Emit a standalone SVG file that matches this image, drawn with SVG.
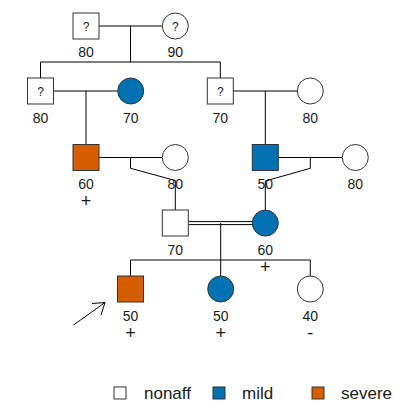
<svg xmlns="http://www.w3.org/2000/svg" width="407" height="411" viewBox="0 0 407 411">
<style>
.sym{stroke:#333333;stroke-width:1}
.wh{fill:#ffffff}
.bl{fill:#0072B2}
.or{fill:#D55E00}
.ln{stroke:#000000;stroke-width:1;fill:none}
text{font-family:"Liberation Sans",Arial,sans-serif;fill:#1a1a1a}
.lab{font-size:14px;text-anchor:middle}
.pm{font-size:18px;text-anchor:middle}
.q{font-size:12px;text-anchor:middle}
.leg{font-size:17px}
</style>
<rect width="407" height="411" fill="#ffffff"/>
<g id="connectors">
<path class="ln" d="M99 26H162.3M130.5 26V62M40.5 62H220.3M40.5 62V78M220.3 62V78"/>
<path class="ln" d="M53.5 91H117.7M86 91V144.5M233.3 91H297.3M265.3 91V144.5"/>
<path class="ln" d="M99 157.5H162.3M130.5 157.5V168.3L175.3 180.5V210"/>
<path class="ln" d="M278.3 157.5H342.3M310.3 157.5V168.3L265.3 181V210"/>
<path class="ln" d="M188.3 221.6H252.3M188.3 224.6H252.3M220.7 223.1V276"/>
<path class="ln" d="M130.5 260H310.3M130.5 260V276M310.3 260V276"/>
<path class="ln" stroke-width="2.2" d="M73.5 325L105 302.5M92 303.5L105 302.5L101 315"/>
</g>
<g id="n1"><rect class="sym wh" x="73" y="13" width="26" height="26"/><text class="q" x="86" y="30.5">?</text><text class="lab" x="86" y="57">80</text></g>
<g id="n2"><circle class="sym wh" cx="175.3" cy="26" r="13"/><text class="q" x="175.3" y="30.5">?</text><text class="lab" x="175.3" y="57">90</text></g>
<g id="n3"><rect class="sym wh" x="27.5" y="78" width="26" height="26"/><text class="q" x="40.5" y="95.5">?</text><text class="lab" x="40.5" y="123">80</text></g>
<g id="n4"><circle class="sym bl" cx="130.7" cy="91" r="13"/><text class="lab" x="130.7" y="123">70</text></g>
<g id="n5"><rect class="sym wh" x="207.3" y="78" width="26" height="26"/><text class="q" x="220.3" y="95.5">?</text><text class="lab" x="220.3" y="123">70</text></g>
<g id="n6"><circle class="sym wh" cx="310.3" cy="91" r="13"/><text class="lab" x="310.3" y="123">80</text></g>
<g id="n7"><rect class="sym or" x="73" y="144.5" width="26" height="26"/><text class="lab" x="86" y="189">60</text><text class="pm" x="86" y="207">+</text></g>
<g id="n8"><circle class="sym wh" cx="175.3" cy="157.5" r="13"/><text class="lab" x="175.3" y="189">80</text></g>
<g id="n9"><rect class="sym bl" x="252.3" y="144.5" width="26" height="26"/><text class="lab" x="265.3" y="189">50</text></g>
<g id="n10"><circle class="sym wh" cx="355.3" cy="157.5" r="13"/><text class="lab" x="355.3" y="189">80</text></g>
<g id="n11"><rect class="sym wh" x="162.3" y="210" width="26" height="26"/><text class="lab" x="175.3" y="255">70</text></g>
<g id="n12"><circle class="sym bl" cx="265.3" cy="223.1" r="13"/><text class="lab" x="265.3" y="255">60</text><text class="pm" x="265.3" y="273">+</text></g>
<g id="n13"><rect class="sym or" x="117.5" y="276" width="26" height="26"/><text class="lab" x="130.5" y="321">50</text><text class="pm" x="130.5" y="338.5">+</text></g>
<g id="n14"><circle class="sym bl" cx="220.7" cy="289" r="13"/><text class="lab" x="220.7" y="321">50</text><text class="pm" x="220.7" y="338.5">+</text></g>
<g id="n15"><circle class="sym wh" cx="310.3" cy="289" r="13"/><text class="lab" x="310.3" y="321">40</text><text class="pm" x="310.3" y="338.5">-</text></g>
<g id="legend">
<rect class="sym wh" x="114" y="387" width="12" height="12"/><text class="leg" x="144" y="399">nonaff</text>
<rect class="sym bl" x="213" y="387" width="12" height="12"/><text class="leg" x="242" y="399">mild</text>
<rect class="sym or" x="312" y="387" width="12" height="12"/><text class="leg" x="341" y="399">severe</text>
</g>
</svg>
